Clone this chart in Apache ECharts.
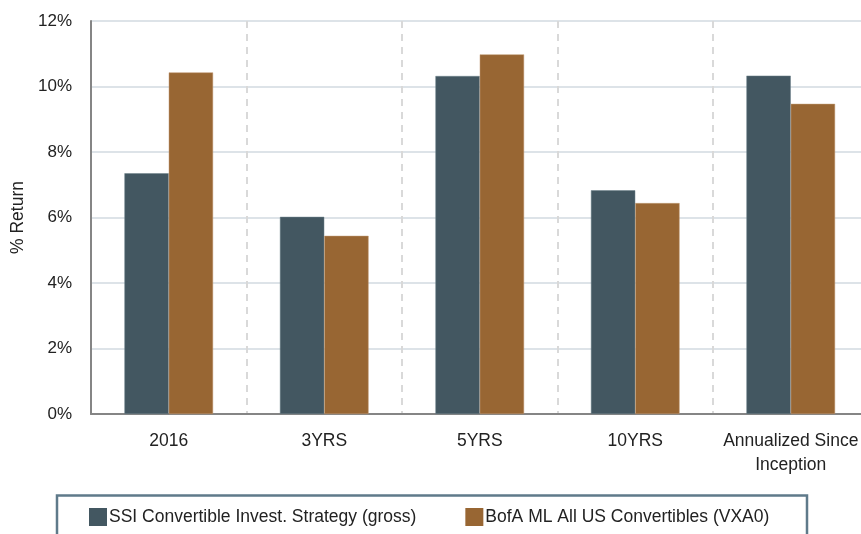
<!DOCTYPE html>
<html>
<head>
<meta charset="utf-8">
<script src="https://cdn.jsdelivr.net/npm/echarts@6/dist/echarts.min.js"></script>
<style>
html,body{margin:0;padding:0;background:#fff;}
#chart{width:861px;height:534px;}
</style>
</head>
<body>
<div id="chart"></div>
<script>
const categories = ['2016', '3YRS', '5YRS', '10YRS', 'Annualized Since\nInception'];
const ssiValues = [7.35, 6.02, 10.32, 6.83, 10.33];
const bofaValues = [10.43, 5.44, 10.98, 6.44, 9.47];
const seriesNames = ['SSI Convertible Invest. Strategy (gross)', 'BofA ML All US Convertibles (VXA0)'];
const yTicks = [0, 2, 4, 6, 8, 10, 12];

const FONT = "'Liberation Sans', Arial, sans-serif";
const chart = echarts.init(document.getElementById('chart'), null, {renderer: 'canvas'});
chart.setOption({
  animation: false,
  backgroundColor: '#ffffff',
  textStyle: {fontFamily: FONT, color: '#222'},
  grid: {left: 91, top: 21, right: -7.5, bottom: 120, containLabel: false, outerBoundsMode: 'none'},
  legend: {
    left: 89, top: 508, width: 760, padding: 0,
    itemWidth: 18, itemHeight: 18, itemGap: 49,
    icon: 'rect',
    itemStyle: {borderWidth: 0},
    textStyle: {fontFamily: FONT, fontSize: 17.5, color: '#222', padding: [0, 0, 0, -3]},
    data: seriesNames
  },
  graphic: [{
    type: 'rect', left: 54.5, top: 493, silent: true,
    shape: {width: 750, height: 60},
    style: {fill: 'none', stroke: '#5f7a8a', lineWidth: 2.5}
  }],
  xAxis: {
    type: 'category',
    data: categories,
    axisLine: {show: true, lineStyle: {color: '#858585', width: 2}},
    axisTick: {show: false},
    axisLabel: {interval: 0, fontFamily: FONT, fontSize: 17.5, color: '#222', margin: 15, lineHeight: 24},
    splitLine: {show: true, interval: 0, lineStyle: {color: '#d9d9d9', width: 2, type: [7, 6]}}
  },
  yAxis: {
    type: 'value',
    min: yTicks[0], max: yTicks[yTicks.length - 1], interval: 2,
    name: '% Return',
    nameLocation: 'middle',
    nameGap: 64,
    nameRotate: 90,
    nameTextStyle: {fontFamily: FONT, fontSize: 17.5, color: '#222'},
    axisLine: {show: true, lineStyle: {color: '#858585', width: 2}},
    axisTick: {show: false},
    axisLabel: {fontFamily: FONT, fontSize: 17, color: '#222', margin: 19, formatter: v => v + '%'},
    splitLine: {show: true, lineStyle: {color: '#dde3e8', width: 2}}
  },
  series: [
    {
      name: seriesNames[0], type: 'bar', data: ssiValues,
      barGap: '0%', barCategoryGap: '43%',
      itemStyle: {color: '#435761', borderColor: '#6d808a', borderWidth: 0.5}
    },
    {
      name: seriesNames[1], type: 'bar', data: bofaValues,
      barGap: '0%', barCategoryGap: '43%',
      itemStyle: {color: '#986633', borderColor: '#c09a74', borderWidth: 0.5}
    }
  ]
});
</script>
</body>
</html>
